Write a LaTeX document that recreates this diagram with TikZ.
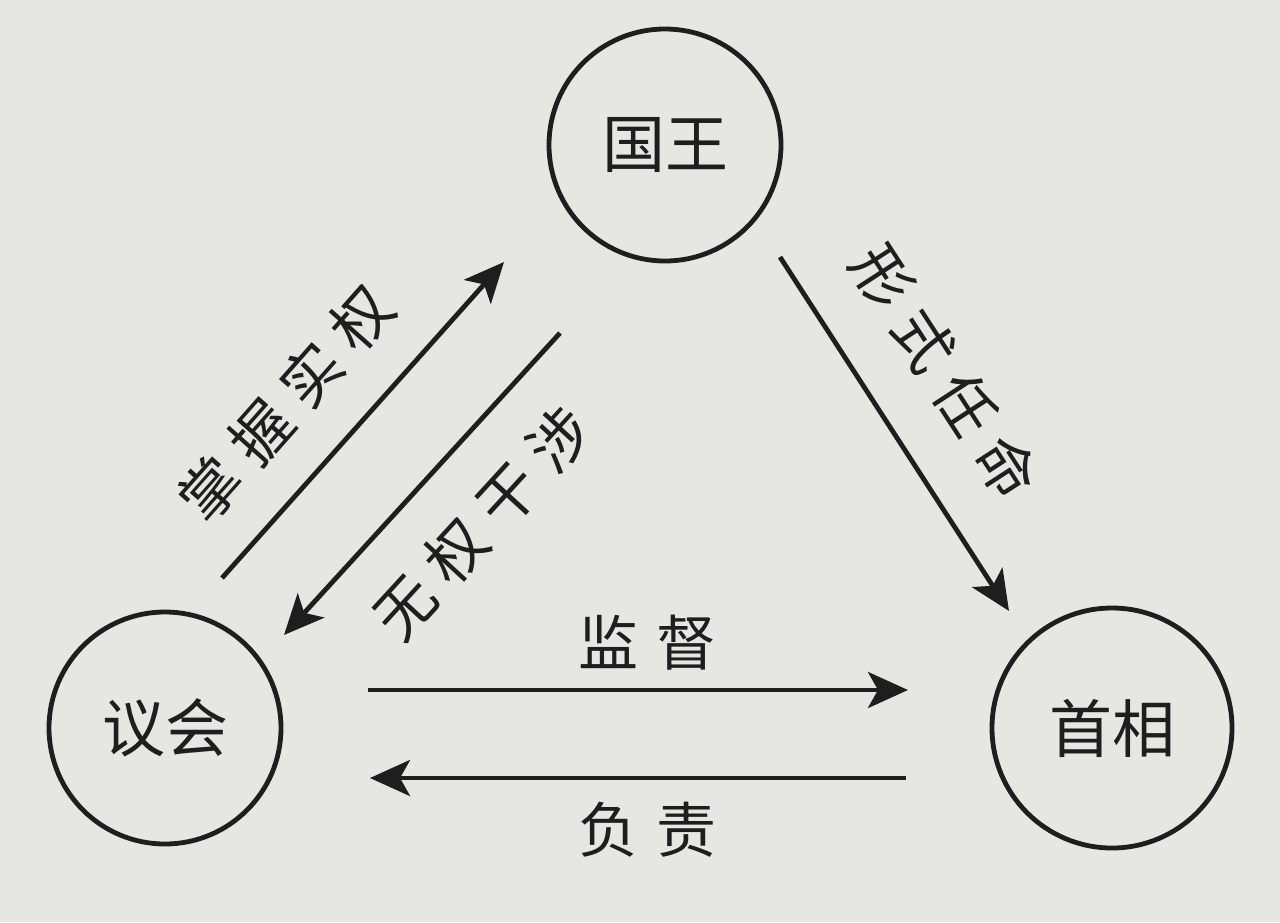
\documentclass[tikz,border=0pt]{standalone}
\usepackage{fontspec}
\newfontfamily\cjk{Noto Sans CJK SC}
\usetikzlibrary{arrows.meta}
\definecolor{bg}{HTML}{E6E6E3}
\definecolor{ink}{HTML}{1E1E1E}
\tikzset{
  party/.style={circle,draw=ink,line width=4.8pt,minimum size=232pt,inner sep=0pt,font=\cjk\fontsize{63}{63}\selectfont,text=ink},
  lbl/.style={font=\cjk\fontsize{60}{60}\selectfont,text=ink,inner sep=0pt},
  conn/.style={draw=ink,line width=4.8pt,-{Stealth[length=40pt,width=36pt,inset=10pt]}},
}
\begin{document}
\begin{tikzpicture}[x=1pt,y=-1pt]
\fill[bg] (0,0) rectangle (1280,922);
\useasboundingbox (0,0) rectangle (1280,922);
\node[party] (king) at (665,145) {国王};
\node[party] (parl) at (165,728) {议会};
\node[party,minimum size=240pt] (pm) at (1112,728) {首相};
\coordinate (a1) at (222,578); \coordinate (a2) at (504,262);
\coordinate (b1) at (560,333); \coordinate (b2) at (284,635);
\coordinate (c1) at (780,257); \coordinate (c2) at (1009,611);
\coordinate (d1) at (368,690); \coordinate (d2) at (908,690);
\coordinate (e1) at (906,778); \coordinate (e2) at (370,778);
\draw[conn] (a1) -- (a2);
\draw[conn] (b1) -- (b2);
\draw[conn] (c1) -- (c2);
\draw[conn] (d1) -- (d2);
\draw[conn] (e1) -- (e2);
\node[lbl,rotate=48.5] (la) at (286,403) {掌\hspace{16pt}握\hspace{16pt}实\hspace{16pt}权};
\node[lbl,rotate=47.5] (lb) at (482,523) {无\hspace{16pt}权\hspace{16pt}干\hspace{16pt}涉};
\node[lbl,rotate=-57] (lc) at (945,372) {形\hspace{16pt}式\hspace{16pt}任\hspace{16pt}命};
\node[lbl] (ld) at (647,643) {监\hspace{18pt}督};
\node[lbl] (le) at (647,830) {负\hspace{18pt}责};
\end{tikzpicture}
\end{document}
